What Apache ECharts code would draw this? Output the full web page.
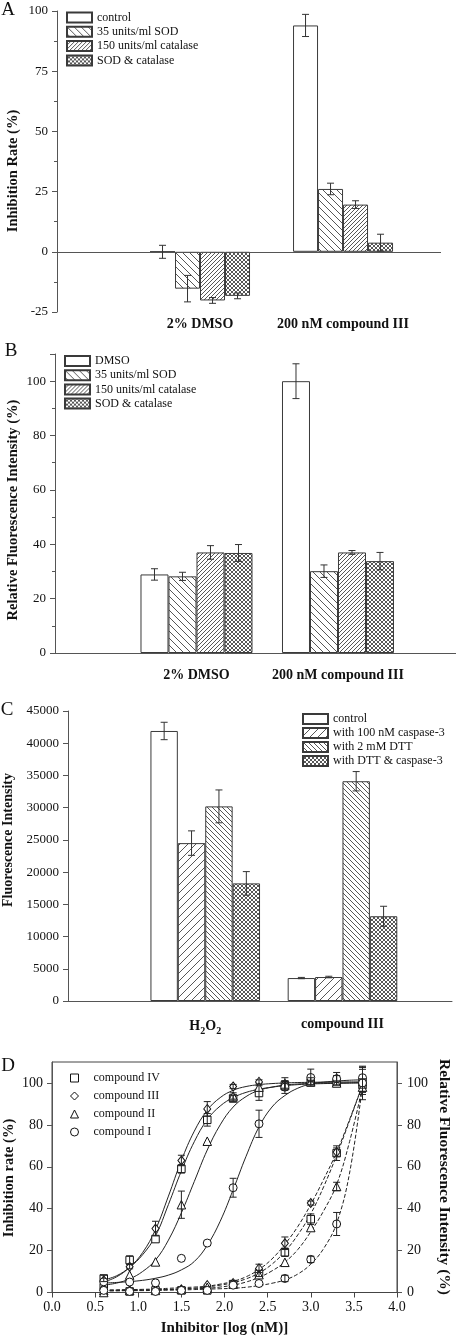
<!DOCTYPE html>
<html><head><meta charset="utf-8">
<script src="https://cdn.jsdelivr.net/npm/echarts@6/dist/echarts.min.js"></script>
<style>html,body{margin:0;padding:0;background:#fff}#c{width:456px;height:1338px}</style>
</head><body><div id="c"></div><script>
// ---------- Panel A ----------
const groupsA = ['2% DMSO', '200 nM compound III'];
const namesA = ['control', '35 units/ml SOD', '150 units/ml catalase', 'SOD & catalase'];
const valA_control = [0, 94];
const valA_sod = [-15.3, 26.1];
const valA_cat = [-20.2, 19.6];
const valA_both = [-18.3, 3.8];
const errA_control = [2.7, 4.6];
const errA_sod = [5.5, 2.4];
const errA_cat = [1.2, 1.6];
const errA_both = [1.2, 3.5];
// ---------- Panel B ----------
const groupsB = ['2% DMSO', '200 nM compound III'];
const namesB = ['DMSO', '35 units/ml SOD', '150 units/ml catalase', 'SOD & catalase'];
const valB_dmso = [28.9, 100];
const valB_sod = [28.2, 30.1];
const valB_cat = [37.0, 37.0];
const valB_both = [36.8, 33.8];
const errB_dmso = [2.1, 6.4];
const errB_sod = [1.5, 2.3];
const errB_cat = [2.5, 0.7];
const errB_both = [3.1, 3.2];
// ---------- Panel C ----------
const groupsC = ['H{s|2}O{s|2}', 'compound III'];
const namesC = ['control', 'with 100 nM caspase-3', 'with 2 mM DTT', 'with DTT & caspase-3'];
const valC_control = [41900, 3560];
const valC_casp = [24500, 3720];
const valC_dtt = [30200, 34100];
const valC_both = [18250, 13150];
const errC_control = [1350, 100];
const errC_casp = [1900, 120];
const errC_dtt = [2550, 1500];
const errC_both = [1830, 1550];
// ---------- Panel D ----------
const namesD = ['compound IV', 'compound III', 'compound II', 'compound I'];
const xD = [0.6, 0.9, 1.2, 1.5, 1.8, 2.1, 2.4, 2.7, 3.0, 3.3, 3.6];
const inhIV  = [6.7, 15.5, 25.5, 59, 82.4, 92.6, 95.2, 99, 100.3, 100, 100.5];
const inhIII = [5.8, 12.3, 30.5, 63, 87.6, 98.3, 100.5, 99.5, 101.5, 102, 100];
const inhII  = [1, 8.3, 14.6, 41.9, 72.2, 93.8, 98, 99, 100.5, 100, 101.5];
const inhI   = [5.1, 5, 4.6, 16.3, 23.6, 50, 80.5, 98, 102.6, 102, 102.5];
const errInhIV  = [1.5, 2, 0, 2, 3, 1.5, 3.5, 2, 1, 1, 6];
const errInhIII = [0, 1, 3.5, 2.5, 3.5, 1, 1, 3, 1, 3, 8];
const errInhII  = [0, 0, 0, 6.5, 0, 1.5, 0, 1.5, 0, 0, 6];
const errInhI   = [0, 0, 0, 0, 0, 4.5, 6.5, 3, 4, 1.5, 5];
const rfiIV  = [2.5, 0.5, 1, 1, 1, 4, 9.1, 19.2, 35, 66.5, 99];
const rfiIII = [2, 1, 1, 1.5, 3.5, 4.5, 11.5, 23.5, 42.7, 67, 99];
const rfiII  = [0, 1, 1, 1.5, 2.5, 4, 8.5, 14.4, 31, 50.6, 98];
const rfiI   = [1, 0.5, 0.5, 1, 1, 3.5, 4.3, 6.7, 15.8, 32.7, 100];
const errRfiIV  = [0, 0, 0, 0, 0, 0, 1.5, 2, 2.5, 3.5, 3];
const errRfiIII = [0, 0, 0, 0, 0, 0, 2, 3, 1, 2, 0];
const errRfiII  = [0, 0, 0, 0, 0, 0, 0, 0, 0, 2, 0];
const errRfiI   = [0, 0, 0, 0, 0, 0, 0, 1.5, 1.5, 5.5, 0];
// fitted curves
const fitX = [0.6, 0.75, 0.9, 1.05, 1.2, 1.35, 1.5, 1.65, 1.8, 1.95, 2.1, 2.25, 2.4, 2.55, 2.7, 2.85, 3.0, 3.15, 3.3, 3.45, 3.6];
const fitInhIV  = [6, 8, 12, 18, 27, 42, 58, 72, 82.5, 89, 93, 95.5, 97, 98, 98.7, 99.2, 99.5, 99.7, 99.8, 99.9, 100];
const fitInhIII = [5, 7.5, 12, 19, 30, 46, 63, 77, 87, 93, 96.5, 98.3, 99.2, 99.7, 100, 100.2, 100.3, 100.4, 100.4, 100.5, 100.5];
const fitInhII  = [3.5, 4.5, 6.5, 10, 15.5, 25, 38, 53, 68, 80, 88.5, 93.5, 96.5, 98, 99, 99.5, 99.8, 100, 100, 100.1, 100.2];
const fitInhI   = [4.5, 4.8, 5.2, 5.8, 6.8, 8.3, 10.8, 14.8, 22.5, 34, 49, 65, 79, 88.5, 94, 97.5, 99.5, 100.4, 100.9, 101.3, 101.5];
const fitRfiIV  = [1, 1, 1.1, 1.2, 1.3, 1.5, 1.7, 2.1, 2.7, 3.5, 4.7, 6.5, 9.3, 13.5, 19.5, 27.5, 37.5, 50.5, 65.5, 82, 99];
const fitRfiIII = [1.2, 1.3, 1.4, 1.5, 1.7, 2, 2.3, 2.6, 3, 4, 5.3, 7.5, 11, 16, 23, 31.5, 42, 54, 67, 82.5, 99];
const fitRfiII  = [0.8, 0.9, 1, 1.1, 1.2, 1.4, 1.6, 1.8, 2, 2.6, 3.5, 5, 7.2, 10.3, 14.5, 20.5, 29, 39, 51.5, 72, 98];
const fitRfiI   = [0.8, 0.8, 0.9, 0.9, 1, 1.1, 1.2, 1.4, 1.6, 1.8, 2, 2.5, 3.3, 4.4, 6, 8.8, 13.5, 21, 33, 57, 99];

const F = '"Liberation Serif","Times New Roman",serif';
const AX = '#555', TXT = '#111', EDGE = '#3a3a3a';

function hatch(kind, s) {
  const c = document.createElement('canvas'); c.width = s; c.height = s;
  const g = c.getContext('2d');
  g.fillStyle = '#fff'; g.fillRect(0, 0, s, s);
  g.strokeStyle = '#444'; g.lineWidth = 0.9; g.beginPath();
  for (const k of [-s, 0, s]) {
    if (kind === 'back' || kind === 'cross') { g.moveTo(k, 0); g.lineTo(k + s, s); }
    if (kind === 'fwd' || kind === 'cross') { g.moveTo(k + s, 0); g.lineTo(k, s); }
  }
  g.stroke();
  return { image: c, repeat: 'repeat' };
}
const fills = {
  white: '#fff',
  backWide: hatch('back', 7), fwdDense: hatch('fwd', 4), cross: hatch('cross', 4),
  fwdWide: hatch('fwd', 8), backDense: hatch('back', 5)
};

function errRender(bw, cap) {
  return function (params, api) {
    const x = api.value(0), v = api.value(1), e = api.value(2), k = api.value(3);
    const off = (k - 1.5) * bw;
    const p1 = api.coord([x, v + e]), p2 = api.coord([x, v - e]);
    const cx = p1[0] + off;
    const st = { stroke: '#333', lineWidth: 1 };
    return { type: 'group', children: [
      { type: 'line', shape: { x1: cx, y1: p1[1], x2: cx, y2: p2[1] }, style: st },
      { type: 'line', shape: { x1: cx - cap, y1: p1[1], x2: cx + cap, y2: p1[1] }, style: st },
      { type: 'line', shape: { x1: cx - cap, y1: p2[1], x2: cx + cap, y2: p2[1] }, style: st }
    ] };
  };
}

const series = [];
function barPanel(gi, names, vals, errs, fillList, bw, withZero) {
  vals.forEach((arr, k) => {
    const s = {
      type: 'bar', name: names[k], xAxisIndex: gi, yAxisIndex: gi,
      barWidth: bw, barGap: '0%',
      data: arr.map((v, i) => [i + 1, v]),
      itemStyle: { color: fillList[k], borderColor: EDGE, borderWidth: 1 },
      z: 2
    };
    if (withZero && k === 0) {
      s.markLine = { symbol: 'none', silent: true, label: { show: false },
        lineStyle: { color: AX, type: 'solid', width: 1 }, data: [{ yAxis: 0 }] };
    }
    series.push(s);
  });
  const edata = [];
  errs.forEach((arr, k) => arr.forEach((e, i) => edata.push([i + 1, vals[k][i], e, k])));
  series.push({ type: 'custom', name: 'err' + gi, xAxisIndex: gi, yAxisIndex: gi,
    renderItem: errRender(bw, 3.5), data: edata, encode: { x: 0, y: 1 }, z: 5, silent: true });
}
barPanel(0, namesA, [valA_control, valA_sod, valA_cat, valA_both],
  [errA_control, errA_sod, errA_cat, errA_both],
  [fills.white, fills.backWide, fills.fwdDense, fills.cross], 25, true);
barPanel(1, namesB, [valB_dmso, valB_sod, valB_cat, valB_both],
  [errB_dmso, errB_sod, errB_cat, errB_both],
  [fills.white, fills.backWide, fills.fwdDense, fills.cross], 28, false);
barPanel(2, namesC, [valC_control, valC_casp, valC_dtt, valC_both],
  [errC_control, errC_casp, errC_dtt, errC_both],
  [fills.white, fills.fwdWide, fills.backDense, fills.cross], 27.4, false);

// Panel D
const symD = ['rect', 'diamond', 'triangle', 'circle'];
const sizeD = [7.5, [7, 9], 8.5, 8];
const inhD = [inhIV, inhIII, inhII, inhI];
const errInhD = [errInhIV, errInhIII, errInhII, errInhI];
const rfiD = [rfiIV, rfiIII, rfiII, rfiI];
const errRfiD = [errRfiIV, errRfiIII, errRfiII, errRfiI];
const fitInhD = [fitInhIV, fitInhIII, fitInhII, fitInhI];
const fitRfiD = [fitRfiIV, fitRfiIII, fitRfiII, fitRfiI];
function dErr(params, api) {
  const x = api.value(0), v = api.value(1), e = api.value(2);
  const p1 = api.coord([x, v + e]), p2 = api.coord([x, v - e]);
  const st = { stroke: '#222', lineWidth: 1 }; const cap = 3.5;
  return { type: 'group', children: [
    { type: 'line', shape: { x1: p1[0], y1: p1[1], x2: p1[0], y2: p2[1] }, style: st },
    { type: 'line', shape: { x1: p1[0] - cap, y1: p1[1], x2: p1[0] + cap, y2: p1[1] }, style: st },
    { type: 'line', shape: { x1: p1[0] - cap, y1: p2[1], x2: p1[0] + cap, y2: p2[1] }, style: st }
  ] };
}
namesD.forEach((nm, c) => {
  series.push({ type: 'line', name: nm + ' fit', xAxisIndex: 3, yAxisIndex: 3, smooth: 0.4,
    showSymbol: false, silent: true, data: fitX.map((x, i) => [x, fitInhD[c][i]]),
    lineStyle: { color: '#222', width: 1 }, z: 2 });
  series.push({ type: 'line', name: nm + ' RFI fit', xAxisIndex: 3, yAxisIndex: 4, smooth: 0.4,
    showSymbol: false, silent: true, data: fitX.map((x, i) => [x, fitRfiD[c][i]]),
    lineStyle: { color: '#222', width: 1, type: [4, 2] }, z: 2 });
  series.push({ type: 'scatter', name: nm, xAxisIndex: 3, yAxisIndex: 3,
    symbol: symD[c], symbolSize: sizeD[c], data: xD.map((x, i) => [x, inhD[c][i]]),
    itemStyle: { color: '#fff', borderColor: '#111', borderWidth: 1, opacity: 1 }, z: 3 });
  series.push({ type: 'scatter', name: nm + ' RFI', xAxisIndex: 3, yAxisIndex: 4,
    symbol: symD[c], symbolSize: sizeD[c], data: xD.map((x, i) => [x, rfiD[c][i]]),
    itemStyle: { color: '#fff', borderColor: '#111', borderWidth: 1, opacity: 1 }, z: 3 });
  const ei = [], er = [];
  xD.forEach((x, i) => {
    if (errInhD[c][i] > 0) ei.push([x, inhD[c][i], errInhD[c][i]]);
    if (errRfiD[c][i] > 0) er.push([x, rfiD[c][i], errRfiD[c][i]]);
  });
  series.push({ type: 'custom', name: nm + ' err', xAxisIndex: 3, yAxisIndex: 3, renderItem: dErr,
    data: ei, encode: { x: 0, y: 1 }, z: 4, silent: true });
  series.push({ type: 'custom', name: nm + ' RFI err', xAxisIndex: 3, yAxisIndex: 4, renderItem: dErr,
    data: er, encode: { x: 0, y: 1 }, z: 4, silent: true });
});

const catLabel = { fontFamily: F, fontSize: 14, fontWeight: 'bold', color: TXT };
function catX(gi, max, labels, margin, showLine) {
  return { type: 'value', gridIndex: gi, min: 0, max: max, interval: 1,
    axisLine: { show: showLine, onZero: false, lineStyle: { color: AX } },
    axisTick: { show: false }, splitLine: { show: false },
    axisLabel: Object.assign({ margin: margin, showMinLabel: false, showMaxLabel: false,
      formatter: v => (v === 1 || v === 2) ? labels[v - 1] : '',
      rich: { s: { fontFamily: F, fontSize: 10, fontWeight: 'bold', color: TXT, padding: [9, 0, 0, 0] } } }, catLabel) };
}
const tickLbl = { fontFamily: F, fontSize: 13, color: TXT, margin: 9, formatter: v => String(v) };
function valY(gi, min, max, interval, minor, extra) {
  return Object.assign({ type: 'value', gridIndex: gi, min, max, interval,
    axisLine: { show: true, lineStyle: { color: AX } },
    axisTick: { show: true, inside: false, length: 5, lineStyle: { color: AX } },
    minorTick: { show: minor, splitNumber: 2, length: 3, lineStyle: { color: AX } },
    splitLine: { show: false },
    axisLabel: Object.assign({ showMaxLabel: max % interval === 0 }, tickLbl) }, extra || {});
}

const legendText = { fontFamily: F, fontSize: 12, color: TXT, lineHeight: 14 };
const option = {
  animation: false,
  backgroundColor: '#fff',
  textStyle: { fontFamily: F },
  grid: [
    { left: 57, top: 11, width: 384, height: 301 },
    { left: 55, top: 354, width: 401, height: 299 },
    { left: 68, top: 711, width: 384, height: 290 },
    { left: 52, top: 1062, width: 345, height: 230.5, show: true, borderColor: '#444', borderWidth: 1 }
  ],
  xAxis: [
    catX(0, 2.685, groupsA, 5, false),
    catX(1, 2.834, groupsB, 15, true),
    catX(2, 2.798, groupsC, 16, true),
    { type: 'value', gridIndex: 3, min: 0, max: 4, interval: 0.5,
      axisLine: { show: true, onZero: false, lineStyle: { color: '#444' } },
      axisTick: { show: true, inside: false, length: 5, lineStyle: { color: '#444' } },
      splitLine: { show: false },
      axisLabel: { fontFamily: F, fontSize: 14, color: TXT, margin: 8, formatter: v => v.toFixed(1) },
      name: 'Inhibitor [log (nM)]', nameLocation: 'middle', nameGap: 28,
      nameTextStyle: { fontFamily: F, fontSize: 15, fontWeight: 'bold', color: TXT } }
  ],
  yAxis: [
    valY(0, -25, 100, 25, true),
    valY(1, 0, 110, 20, true),
    valY(2, 0, 45000, 5000, false),
    valY(3, 0, 110, 20, false, { axisLabel: Object.assign({}, tickLbl, { fontSize: 14, showMaxLabel: false }) }),
    valY(3, 0, 110, 20, false, { position: 'right', axisLabel: Object.assign({}, tickLbl, { fontSize: 14, margin: 10, showMaxLabel: false }) })
  ],
  legend: [
    { data: namesA, orient: 'vertical', left: 66, top: 10.5, padding: 0, itemWidth: 25, itemHeight: 10, itemGap: 0.3,
      icon: 'rect', textStyle: legendText, selectedMode: false },
    { data: namesB, orient: 'vertical', left: 64, top: 354, padding: 0, itemWidth: 25, itemHeight: 10, itemGap: 0.2,
      icon: 'rect', textStyle: legendText, selectedMode: false },
    { data: namesC, orient: 'vertical', left: 302, top: 712, padding: 0, itemWidth: 25, itemHeight: 10, itemGap: 0,
      icon: 'rect', textStyle: legendText, selectedMode: false },
    { data: namesD, orient: 'vertical', left: 70, top: 1071, padding: 0, itemWidth: 8, itemHeight: 8, itemGap: 4,
      itemStyle: { color: '#fff', borderColor: '#111', borderWidth: 1 },
      textStyle: Object.assign({}, legendText, { padding: [0, 0, 0, 10] }), selectedMode: false }
  ],
  graphic: [
    { type: 'text', x: 8, y: 10, style: { text: 'A', font: '19px ' + F, fill: TXT, align: 'center', verticalAlign: 'middle', textAlign: 'center', textVerticalAlign: 'middle' } },
    { type: 'text', x: 11, y: 351, style: { text: 'B', font: '19px ' + F, fill: TXT, align: 'center', verticalAlign: 'middle', textAlign: 'center', textVerticalAlign: 'middle' } },
    { type: 'text', x: 7, y: 710, style: { text: 'C', font: '19px ' + F, fill: TXT, align: 'center', verticalAlign: 'middle', textAlign: 'center', textVerticalAlign: 'middle' } },
    { type: 'text', x: 8, y: 1066, style: { text: 'D', font: '19px ' + F, fill: TXT, align: 'center', verticalAlign: 'middle', textAlign: 'center', textVerticalAlign: 'middle' } },
    { type: 'text', x: 13, y: 171, rotation: Math.PI / 2, style: { text: 'Inhibition Rate (%)', font: 'bold 14.5px ' + F, fill: TXT, align: 'center', verticalAlign: 'middle', textAlign: 'center', textVerticalAlign: 'middle' } },
    { type: 'text', x: 13, y: 510, rotation: Math.PI / 2, style: { text: 'Relative Fluorescence Intensity (%)', font: 'bold 14.5px ' + F, fill: TXT, align: 'center', verticalAlign: 'middle', textAlign: 'center', textVerticalAlign: 'middle' } },
    { type: 'text', x: 8, y: 840, rotation: Math.PI / 2, style: { text: 'Fluorescence Intensity', font: 'bold 14px ' + F, fill: TXT, align: 'center', verticalAlign: 'middle', textAlign: 'center', textVerticalAlign: 'middle' } },
    { type: 'text', x: 9, y: 1178, rotation: Math.PI / 2, style: { text: 'Inhibition rate (%)', font: 'bold 14.5px ' + F, fill: TXT, align: 'center', verticalAlign: 'middle', textAlign: 'center', textVerticalAlign: 'middle' } },
    { type: 'text', x: 444, y: 1177, rotation: -Math.PI / 2, style: { text: 'Relative Fluorescence Intensity (%)', font: 'bold 15.5px ' + F, fill: TXT, align: 'center', verticalAlign: 'middle', textAlign: 'center', textVerticalAlign: 'middle' } }
  ],
  series: series
};
const chart = echarts.init(document.getElementById('c'), null, { renderer: 'canvas' });
chart.setOption(option);
</script></body></html>
